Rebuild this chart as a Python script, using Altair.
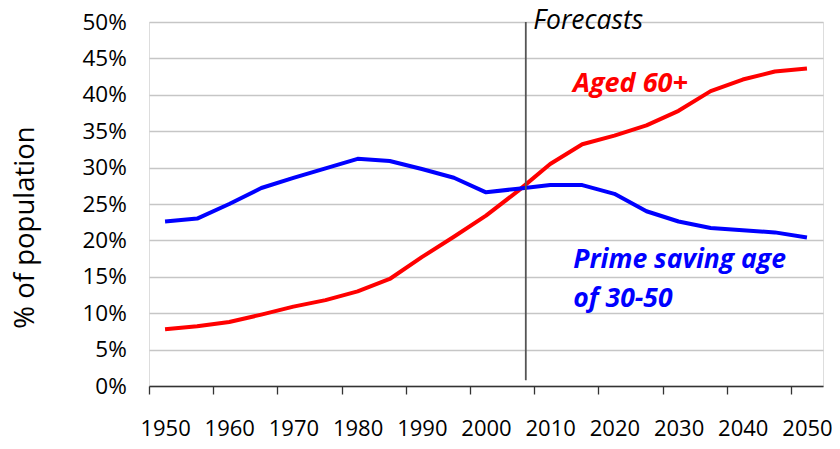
import altair as alt
import pandas as pd

years = [1950, 1955, 1960, 1965, 1970, 1975, 1980, 1985, 1990, 1995, 2000,
         2005, 2010, 2015, 2020, 2025, 2030, 2035, 2040, 2045, 2050]
aged_60_plus = [7.8, 8.2, 8.8, 9.8, 10.9, 11.8, 13.0, 14.7, 17.7, 20.5, 23.4,
                26.8, 30.5, 33.2, 34.4, 35.8, 37.8, 40.5, 42.1, 43.2, 43.6]
prime_saving = [22.6, 23.0, 25.0, 27.2, 28.6, 29.9, 31.2, 30.9, 29.8, 28.6, 26.6,
                27.1, 27.6, 27.6, 26.4, 24.0, 22.6, 21.7, 21.4, 21.1, 20.4]
series_names = ["Aged 60+", "Prime saving age of 30-50"]
series_colors = ["#ff0000", "#0000ff"]
x_labels = [1950, 1960, 1970, 1980, 1990, 2000, 2010, 2020, 2030, 2040, 2050]
y_ticks = [0, 5, 10, 15, 20, 25, 30, 35, 40, 45, 50]
forecast_year = 2006.2

rows = []
for name, vals in zip(series_names, [aged_60_plus, prime_saving]):
    for yr, v in zip(years, vals):
        rows.append({"year": yr, "value": v, "series": name})
df = pd.DataFrame(rows)

W, H = 674, 364
half_cat = W / 21 / 2
FONT = "Open Sans"

xscale = alt.Scale(domain=[1947.5, 2052.5], nice=False, zero=False)
yscale = alt.Scale(domain=[0, 50], nice=False)

x_axis = alt.Axis(values=x_labels, format="d", title=None, grid=False,
                  ticks=True, tickSize=8, tickColor="#333333", tickWidth=1.3,
                  tickOffset=-half_cat, labelOffset=half_cat,
                  domainColor="#333333", domainWidth=1.5,
                  labelFont=FONT, labelFontSize=22, labelColor="#000000",
                  labelBaseline="alphabetic", labelPadding=41,
                  labelFlush=False, labelOverlap=False)
y_axis = alt.Axis(values=y_ticks, labelExpr="datum.value + '%'",
                  title="% of population", titleFont=FONT, titleFontSize=27.5,
                  titleFontWeight="normal", titleColor="#000000",
                  titleAngle=270, titleAlign="center", titleBaseline="alphabetic",
                  titleX=-116, titleY=205,
                  grid=True, gridColor="#c6c6c6", gridWidth=1.3,
                  domain=False, ticks=False, tickSize=0,
                  labelFont=FONT, labelFontSize=22.5, labelColor="#000000",
                  labelPadding=22.7, labelBaseline="middle",
                  labelOverlap=False, labelFlush=False)

lines = alt.Chart(df).mark_line(strokeWidth=4, strokeJoin="round").encode(
    x=alt.X("year:Q", scale=xscale, axis=x_axis),
    y=alt.Y("value:Q", scale=yscale, axis=y_axis),
    color=alt.Color("series:N", scale=alt.Scale(domain=series_names, range=series_colors),
                    legend=None),
)

vline = alt.Chart(pd.DataFrame({"year": [forecast_year]})).mark_rule(
    color="#555555", strokeWidth=1.8
).encode(
    x=alt.X("year:Q", scale=xscale, axis=x_axis),
    y=alt.Y(datum=50, scale=yscale, axis=y_axis),
    y2=alt.Y2(datum=0.8),
)

forecast_text = alt.Chart(pd.DataFrame({"year": [forecast_year]})).mark_text(
    text="Forecasts", align="left", baseline="alphabetic", dx=7.5, dy=6.5,
    font=FONT, fontSize=26.5, fontStyle="italic", color="#000000"
).encode(
    x=alt.X("year:Q", scale=xscale, axis=x_axis),
    y=alt.Y(datum=50, scale=yscale, axis=y_axis),
)

aged_label = alt.Chart(pd.DataFrame({"year": [2013.55]})).mark_text(
    text="Aged 60+", align="left", baseline="alphabetic",
    font=FONT, fontSize=27, fontStyle="italic", fontWeight="bold", color="#ff0000"
).encode(
    x=alt.X("year:Q", scale=xscale, axis=x_axis),
    y=alt.Y(datum=40.4, scale=yscale, axis=y_axis),
)

prime_label = alt.Chart(pd.DataFrame({"year": [2013.6]})).mark_text(
    text=["Prime saving age", "of 30-50"], align="left", baseline="alphabetic",
    lineHeight=38.5,
    font=FONT, fontSize=26.5, fontStyle="italic", fontWeight="bold", color="#0000ff"
).encode(
    x=alt.X("year:Q", scale=xscale, axis=x_axis),
    y=alt.Y(datum=16.2, scale=yscale, axis=y_axis),
)

chart = alt.layer(lines, vline, forecast_text, aged_label, prime_label).properties(
    width=W, height=H,
    autosize=alt.AutoSizeParams(type="none"),
    padding={"left": 141, "top": 14, "right": 9, "bottom": 55},
).configure_view(stroke=None).configure(background="#ffffff")

chart.save("out.html", embed_options={"renderer": "svg", "actions": False})
